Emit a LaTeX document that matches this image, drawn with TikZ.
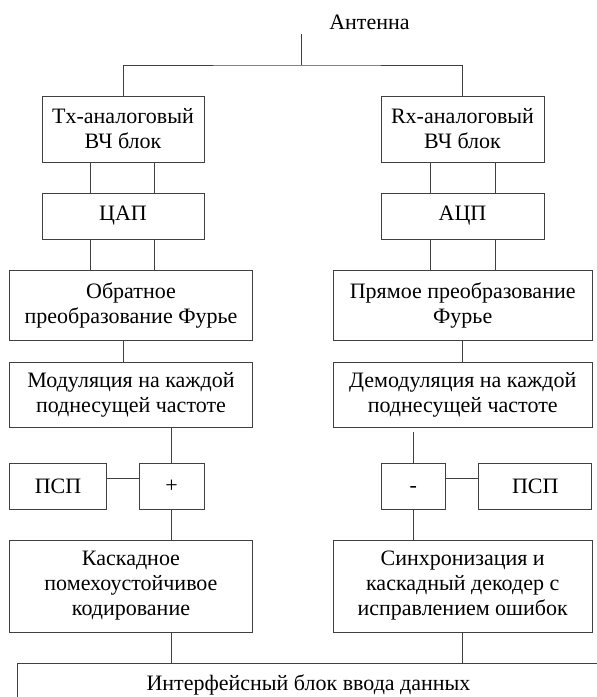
\documentclass[tikz,border=0pt]{standalone}
\usepackage{fontspec}
\setmainfont{Liberation Serif}

\begin{document}
\begin{tikzpicture}[x=1pt,y=-1pt,
	blk/.style={draw=black!75,line width=0.8pt,inner sep=0pt,align=center,
		font=\fontsize{22}{25}\selectfont},
	txt/.style={inner sep=0pt,font=\fontsize{22}{25}\selectfont},
	wire/.style={draw=black!75,line width=0.8pt}]
	\useasboundingbox (0,0) rectangle (597,697);
	\clip (0,0) rectangle (597,697);
	% antenna and the bus to both front ends
	\node[txt,anchor=base] (ant) at (369.5,29) {Антенна};
	\coordinate (feed) at (301,34);
	\coordinate (bus) at (301,65);
	% transmit chain
	\node[blk,minimum width=162,minimum height=66] (tx) at (123,129) {Tx-аналоговый\\ВЧ блок};
	\node[blk,minimum width=162,minimum height=46] (dac) at (123,216) {ЦАП};
	\node[blk,minimum width=243,minimum height=70] (ifft) at (131,305) {Обратное\\преобразование Фурье};
	\node[blk,minimum width=243,minimum height=65] (mod) at (131,394.5) {Модуляция на каждой\\поднесущей частоте};
	\node[blk,minimum width=97,minimum height=46] (pspl) at (58,486) {ПСП};
	\node[blk,minimum width=65,minimum height=46] (plus) at (171.7,486) {+};
	\node[blk,minimum width=243,minimum height=92] (coder) at (131,586) {Каскадное\\помехоустойчивое\\кодирование};
	% receive chain
	\node[blk,minimum width=163,minimum height=66] (rx) at (462.5,129) {Rx-аналоговый\\ВЧ блок};
	\node[blk,minimum width=163,minimum height=46] (adc) at (462.5,216) {АЦП};
	\node[blk,minimum width=259,minimum height=70] (fft) at (462.7,305) {Прямое преобразование\\Фурье};
	\node[blk,minimum width=259,minimum height=65] (demod) at (462.7,394.5) {Демодуляция на каждой\\поднесущей частоте};
	\node[blk,minimum width=64,minimum height=46,text height=6.6pt,text depth=0pt] (minus) at (413.3,486) {\raisebox{-3pt}{-}};
	\node[blk,minimum width=113,minimum height=46] (pspr) at (535.3,486) {ПСП};
	\node[blk,minimum width=259,minimum height=92] (decoder) at (462.7,586) {Синхронизация и\\каскадный декодер с\\исправлением ошибок};
	% data interface, runs off the page
	\node[blk,anchor=north west,minimum width=640,minimum height=80] (iface) at (17.3,663) {};
	\node[txt,anchor=base] (ifacetxt) at (308.5,690) {Интерфейсный блок ввода данных};

	\draw[wire] (feed) -- (bus);
	\draw[wire] (tx.north) |- (bus) -| (rx.north);
	\foreach \dx in {-33,31.5} {
		\draw[wire] ([xshift=\dx]tx.south) -- ([xshift=\dx]dac.north);
		\draw[wire] ([xshift=\dx]dac.south) -- ([xshift=\dx]dac.south |- ifft.north);
	}
	\foreach \dx in {-32,33} {
		\draw[wire] ([xshift=\dx]rx.south) -- ([xshift=\dx]adc.north);
		\draw[wire] ([xshift=\dx]adc.south) -- ([xshift=\dx]adc.south |- fft.north);
	}
	\draw[wire] (ifft.south -| tx) -- (mod.north -| tx);
	\draw[wire] (mod.south -| plus) -- (plus.north);
	\draw[wire] ([yshift=8]pspl.east) -- ([yshift=8]plus.west);
	\draw[wire] (plus.south) -- (coder.north -| plus);
	\draw[wire] (coder.south -| plus) -- (iface.north -| plus);

	\draw[wire] (fft.south) -- (demod.north);
	\draw[wire,shorten <=5] (demod.south -| minus) -- (minus.north);
	\draw[wire] ([yshift=8]minus.east) -- ([yshift=8]pspr.west);
	\draw[wire] (minus.south) -- (decoder.north -| minus);
	\draw[wire] (decoder.south) -- (iface.north -| decoder);
\end{tikzpicture}
\end{document}
